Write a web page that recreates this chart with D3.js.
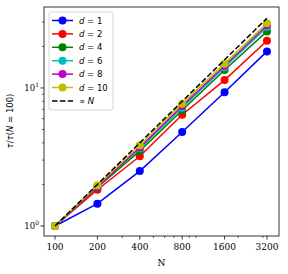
<!DOCTYPE html>
<html lang="en">
<head>
    <meta charset="UTF-8">
    <title>tau vs N</title>
    <script src="https://cdn.jsdelivr.net/npm/d3@7"></script>
    <style>
        body {margin: 0; background: #fff;}
        svg {display: block;}
    </style>
</head>
<body>
    <div id="graf"></div>

    <script>
        // data
        const sizes = [100, 200, 400, 800, 1600, 3200];
        const dims = [1, 2, 4, 6, 8, 10];
        const colors = ["#0000ff", "#ff0000", "#008000", "#00bfbf", "#bf00bf", "#bfbf00"];
        const tauD1 = [1, 1.45, 2.5, 4.8, 9.3, 18.4];
        const tauD2 = [1, 1.83, 3.2, 6.4, 11.4, 22.0];
        const tauD4 = [1, 1.9, 3.5, 6.9, 13.5, 25.7];
        const tauD6 = [1, 1.93, 3.65, 7.2, 14.1, 27.6];
        const tauD8 = [1, 1.92, 3.7, 7.4, 14.5, 28.5];
        const tauD10 = [1, 1.97, 3.85, 7.7, 15.0, 29.4];
        const propN = [1, 2, 4, 8, 16, 32];
        const xTickLabels = ["100", "200", "400", "800", "1600", "3200"];

        const series = [tauD1, tauD2, tauD4, tauD6, tauD8, tauD10];

        let W = 288, H = 274;
        let plot = {left: 44, right: 279, top: 7, bottom: 236};

        let svg = d3.select("#graf")
            .append("svg")
            .attr("width", W)
            .attr("height", H);

        let x = d3.scaleLog().base(2)
            .domain([83.5, 3896])
            .range([plot.left, plot.right]);
        let y = d3.scaleLog()
            .domain([0.846, 38.6])
            .range([plot.bottom, plot.top]);

        const serif = "'DejaVu Serif', serif";
        const sans = "'DejaVu Sans', sans-serif";

        // x axis (major ticks + log10 minor ticks)
        let xMinor = [300, 500, 600, 700, 900, 1000, 2000, 3000];
        let xAxis = svg.append("g")
            .attr("transform", "translate(0," + plot.bottom + ")");
        xAxis.selectAll("line.minor").data(xMinor).enter().append("line")
            .attr("x1", d => x(d)).attr("x2", d => x(d))
            .attr("y1", 0).attr("y2", 2)
            .attr("stroke", "#000").attr("stroke-width", 0.6);
        xAxis.selectAll("line.major").data(sizes).enter().append("line")
            .attr("x1", d => x(d)).attr("x2", d => x(d))
            .attr("y1", 0).attr("y2", 3.5)
            .attr("stroke", "#000").attr("stroke-width", 0.8);
        xAxis.selectAll("text").data(sizes).enter().append("text")
            .attr("x", d => x(d))
            .attr("y", 14)
            .attr("text-anchor", "middle")
            .style("font-family", serif)
            .style("font-size", "9px")
            .text((d, i) => xTickLabels[i]);

        // y axis
        let yMinor = [2, 3, 4, 5, 6, 7, 8, 9, 20, 30];
        let yMajor = [1, 10];
        let yAxis = svg.append("g")
            .attr("transform", "translate(" + plot.left + ",0)");
        yAxis.selectAll("line.minor").data(yMinor).enter().append("line")
            .attr("x1", 0).attr("x2", -2)
            .attr("y1", d => y(d)).attr("y2", d => y(d))
            .attr("stroke", "#000").attr("stroke-width", 0.6);
        yAxis.selectAll("line.major").data(yMajor).enter().append("line")
            .attr("x1", 0).attr("x2", -3.5)
            .attr("y1", d => y(d)).attr("y2", d => y(d))
            .attr("stroke", "#000").attr("stroke-width", 0.8);
        let yl = yAxis.selectAll("text").data(yMajor).enter().append("text")
            .attr("x", -5)
            .attr("y", d => y(d) + 3.3)
            .attr("text-anchor", "end")
            .style("font-family", serif)
            .style("font-size", "8.5px");
        yl.append("tspan").text("10");
        yl.append("tspan")
            .attr("dy", -4)
            .style("font-size", "6px")
            .text(d => Math.round(Math.log10(d)));

        // lines
        let line = d3.line()
            .x((d, i) => x(sizes[i]))
            .y(d => y(d));

        series.forEach(function(s, k) {
            svg.append("path")
                .datum(s)
                .attr("fill", "none")
                .attr("stroke", colors[k])
                .attr("stroke-width", 1.5)
                .attr("d", line);
            svg.selectAll(null).data(s).enter().append("circle")
                .attr("cx", (d, i) => x(sizes[i]))
                .attr("cy", d => y(d))
                .attr("r", 4)
                .attr("fill", colors[k]);
        });

        svg.append("path")
            .datum(propN)
            .attr("fill", "none")
            .attr("stroke", "#000")
            .attr("stroke-width", 1.5)
            .attr("stroke-dasharray", "5.5,2.4")
            .attr("d", line);

        // frame
        svg.append("rect")
            .attr("x", plot.left).attr("y", plot.top)
            .attr("width", plot.right - plot.left)
            .attr("height", plot.bottom - plot.top)
            .attr("fill", "none")
            .attr("stroke", "#000")
            .attr("stroke-width", 0.8);

        // legend
        let leg = svg.append("g").attr("transform", "translate(49,12)");
        leg.append("rect")
            .attr("width", 64).attr("height", 98)
            .attr("rx", 2)
            .attr("fill", "#fff").attr("fill-opacity", 0.8)
            .attr("stroke", "#cccccc").attr("stroke-width", 0.8);
        let rowY = d => 8.5 + d * 13.4;
        dims.forEach(function(dv, k) {
            let r = leg.append("g").attr("transform", "translate(0," + rowY(k) + ")");
            r.append("line").attr("x1", 3).attr("x2", 24)
                .attr("stroke", colors[k]).attr("stroke-width", 1.5);
            r.append("circle").attr("cx", 13.5).attr("r", 4).attr("fill", colors[k]);
            let t = r.append("text").attr("x", 30).attr("y", 3)
                .style("font-family", sans).style("font-size", "8.5px");
            t.append("tspan").style("font-style", "italic").text("d");
            t.append("tspan").text(" = " + dv);
        });
        let last = leg.append("g").attr("transform", "translate(0," + rowY(6) + ")");
        last.append("line").attr("x1", 3).attr("x2", 24)
            .attr("stroke", "#000").attr("stroke-width", 1.5)
            .attr("stroke-dasharray", "5.5,2.4");
        let tl = last.append("text").attr("x", 30).attr("y", 3)
            .style("font-family", sans).style("font-size", "8.5px");
        tl.append("tspan").text("\u221D ");
        tl.append("tspan").style("font-style", "italic").text("N");

        // axis labels
        svg.append("text")
            .attr("x", (plot.left + plot.right) / 2)
            .attr("y", 265.5)
            .attr("text-anchor", "middle")
            .style("font-family", serif)
            .style("font-size", "9px")
            .text("N");

        let ylab = svg.append("text")
            .attr("transform", "translate(13,121) rotate(-90)")
            .attr("text-anchor", "middle")
            .style("font-family", sans)
            .style("font-size", "8.5px");
        ylab.append("tspan").style("font-style", "italic").text("\u03C4");
        ylab.append("tspan").text("/");
        ylab.append("tspan").style("font-style", "italic").text("\u03C4");
        ylab.append("tspan").text("(");
        ylab.append("tspan").style("font-style", "italic").text("N");
        ylab.append("tspan").text(" = 100)");
    </script>

</body>
</html>
